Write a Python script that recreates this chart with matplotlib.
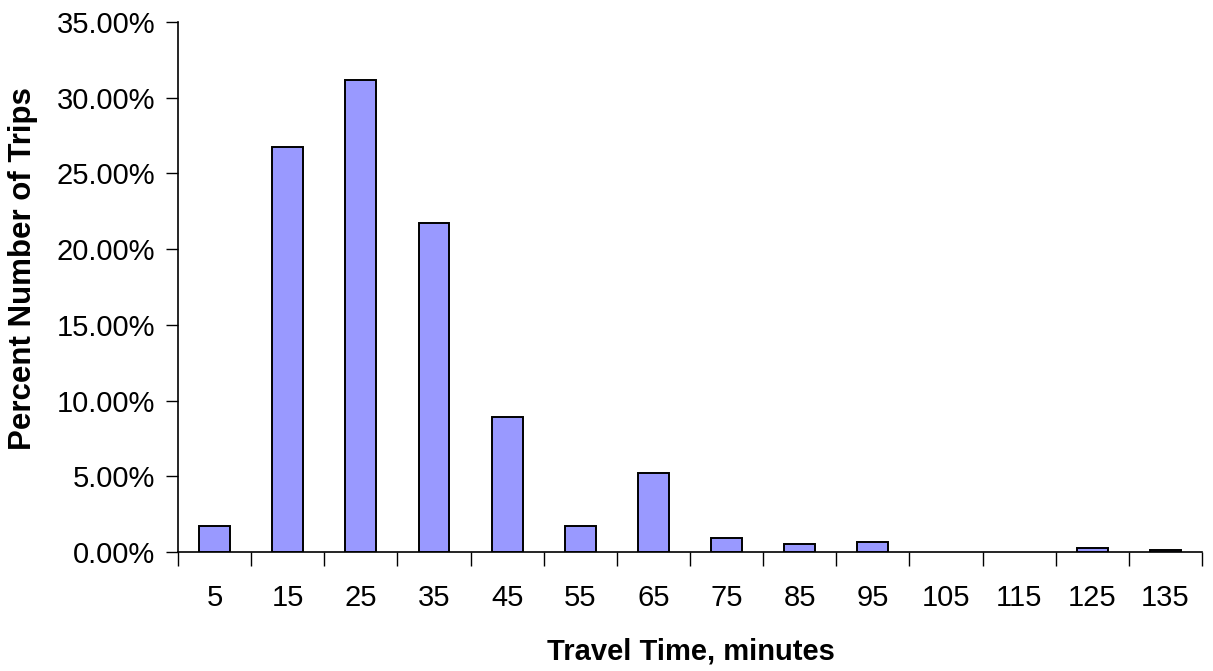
import numpy as np
import matplotlib
matplotlib.use("Agg")
import matplotlib.pyplot as plt
from matplotlib.ticker import FuncFormatter, FixedLocator

plt.rcParams['font.family'] = ['Liberation Sans', 'DejaVu Sans']

# travel time bins (minutes) and share of trips (%)
minutes = [5, 15, 25, 35, 45, 55, 65, 75, 85, 95, 105, 115, 125, 135]
pct_trips = [1.72, 26.75, 31.17, 21.73, 8.92, 1.72, 5.22, 0.92, 0.53, 0.66, 0.0, 0.0, 0.26, 0.13]
y_ticks = [0, 5, 10, 15, 20, 25, 30, 35]

fig = plt.figure(figsize=(12.13, 6.71), dpi=100)
ax = fig.add_axes([178/1213, 1-552/671, (1202-178)/1213, (552-22)/671])

x = np.arange(len(minutes))
# empty bins get no outline at all
lw = [1.4 if v > 0 else 0 for v in pct_trips]
ax.bar(x, pct_trips, width=0.42, color="#9999FF", edgecolor="black", linewidth=lw, zorder=3)

ax.set_xlim(-0.5, len(minutes)-0.5)
ax.set_ylim(0, 35)

# category labels at centres, tick marks between categories
ax.set_xticks(x)
ax.set_xticklabels([str(m) for m in minutes], fontsize=21)
ax.tick_params(axis='x', which='major', length=0, pad=23)
ax.xaxis.set_minor_locator(FixedLocator(np.arange(len(minutes)+1) - 0.5))
ax.tick_params(axis='x', which='minor', length=10, width=1, direction='out', color='black')

ax.set_yticks(y_ticks)
ax.yaxis.set_major_formatter(FuncFormatter(lambda v, p: f"{v:.2f}%"))
ax.tick_params(axis='y', length=9, width=1, direction='out', pad=7.5, labelsize=21)

for s in ['top', 'right']:
    ax.spines[s].set_visible(False)
for s in ['left', 'bottom']:
    ax.spines[s].set_linewidth(1.2)

fig.text(691/1213, 1-652/671, "Travel Time, minutes", fontsize=21, fontweight='bold',
         ha='center', va='center')
fig.text(23/1213, 1-269/671, "Percent Number of Trips", fontsize=22.5, fontweight='bold',
         ha='center', va='center', rotation=90)

fig.savefig("out.png", dpi=100)
